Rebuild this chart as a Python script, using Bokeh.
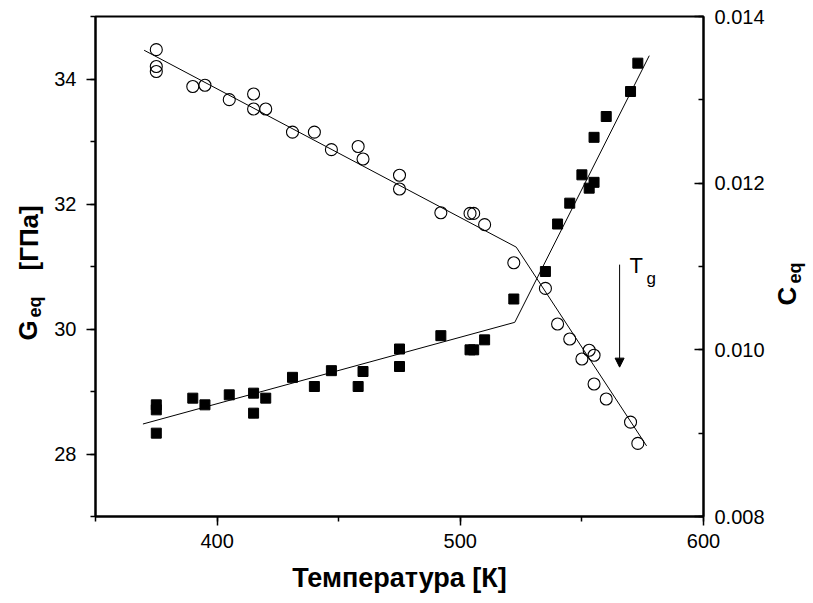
import math
from bokeh.plotting import figure
from bokeh.layouts import row
from bokeh.models import (Range1d, LinearAxis, SingleIntervalTicker, Label,
                          Arrow, NormalHead, NumeralTickFormatter)
from bokeh.core.properties import value
from bokeh.embed import file_html
from bokeh.resources import INLINE

# ---- data ----
temp = [375, 375, 375, 390, 395, 405, 415, 415, 420, 431, 440, 447, 458, 460,
        475, 475, 492, 504, 505.5, 510, 522, 535, 540, 545, 550, 553, 555, 555,
        560, 570, 573]
g_eq = [34.47, 34.20, 34.12, 33.88, 33.90, 33.67, 33.76, 33.52, 33.52, 33.15,
        33.15, 32.87, 32.92, 32.72, 32.46, 32.24, 31.86, 31.85, 31.85, 31.67,
        31.06, 30.65, 30.08, 29.84, 29.52, 29.66, 29.58, 29.12, 28.88, 28.51,
        28.17]
c_eq = [0.00934, 0.00928, 0.00900, 0.00942, 0.00934, 0.00946, 0.00948, 0.00924,
        0.00942, 0.00967, 0.00956, 0.00975, 0.00956, 0.00974, 0.01001, 0.00980,
        0.01017, 0.01000, 0.01000, 0.01012, 0.01061, 0.01094, 0.01151, 0.01176,
        0.01210, 0.01194, 0.01201, 0.01255, 0.01280, 0.01310, 0.01344]

g_fit_t = [370.0, 523.0, 576.6]
g_fit_v = [34.46, 31.31, 28.13]
c_fit_t = [369.5, 522.4, 577.7]
c_fit_v = [0.00911, 0.01033, 0.01353]

tg_arrow_x = 565.5
tg_arrow_y = [31.03, 29.39]

x_title = "Температура [К]"
g_title = ["G", "eq", "[ГПа]"]
c_title = ["C", "eq"]

FONT = "Liberation Sans"
H = 603
LEFT_W = 50
RIGHT_W = 40
MAIN_W = 813 - LEFT_W - RIGHT_W
TOP, BOTTOM = 16, 87
Y0, Y1 = 27, 35


def py_to_y(py):
    # screen pixel row -> left-axis data value (frame 16..516 maps 35..27)
    return Y1 - (py - TOP) * (Y1 - Y0) / (H - TOP - BOTTOM)


# ---- main figure ----
p = figure(width=MAIN_W, height=H, output_backend="svg", toolbar_location=None,
           x_range=Range1d(350, 600), y_range=Range1d(Y0, Y1),
           min_border_left=95 - LEFT_W, min_border_right=110 - RIGHT_W,
           min_border_top=TOP, min_border_bottom=BOTTOM)
p.extra_y_ranges = {"c": Range1d(0.008, 0.014)}
p.background_fill_color = "white"
p.border_fill_color = "white"
p.xgrid.visible = False
p.ygrid.visible = False
p.outline_line_color = "black"
p.outline_line_width = 2


def style_axis(ax, tick_out, tick_in, minor_out, minor_in, standoff):
    ax.axis_line_width = 2
    ax.axis_line_color = "black"
    ax.major_tick_out = tick_out
    ax.major_tick_in = tick_in
    ax.minor_tick_out = minor_out
    ax.minor_tick_in = minor_in
    ax.major_tick_line_width = 1.5
    ax.minor_tick_line_width = 1.5
    ax.major_tick_line_color = "black"
    ax.minor_tick_line_color = "black"
    ax.major_label_text_font = FONT
    ax.major_label_text_font_size = "20px"
    ax.major_label_text_color = "black"
    ax.major_label_standoff = standoff


xa = p.xaxis[0]
xa.ticker = SingleIntervalTicker(interval=100, num_minor_ticks=2)
style_axis(xa, 9, 0, 5, 0, 8)
xa.axis_label = x_title
xa.axis_label_text_font = FONT
xa.axis_label_text_font_size = "27px"
xa.axis_label_text_font_style = "bold"
xa.axis_label_text_color = "black"
xa.axis_label_standoff = 12

ya = p.yaxis[0]
ya.ticker = SingleIntervalTicker(interval=2, num_minor_ticks=2)
style_axis(ya, 9, 0, 5, 0, 10)

ra = LinearAxis(y_range_name="c",
                ticker=SingleIntervalTicker(interval=0.002, num_minor_ticks=2),
                formatter=NumeralTickFormatter(format="0.000"))
style_axis(ra, 0, 9, 0, 5, 11)
p.add_layout(ra, "right")

# fit lines
p.line(g_fit_t, g_fit_v, line_color="black", line_width=1)
p.line(c_fit_t, c_fit_v, line_color="black", line_width=1, y_range_name="c")

# markers
p.scatter(temp, g_eq, marker="circle", size=12, fill_color=None,
          line_color="black", line_width=1.1)
p.scatter(temp, c_eq, marker="square", size=10, fill_color="black",
          line_color="black", y_range_name="c")

# Tg arrow + label
p.add_layout(Arrow(x_start=tg_arrow_x, y_start=tg_arrow_y[0],
                   x_end=tg_arrow_x, y_end=tg_arrow_y[1],
                   line_color="black", line_width=1,
                   end=NormalHead(size=9, fill_color="black", line_color="black")))
p.add_layout(Label(x=569.6, y=30.824, text="T", text_font=FONT,
                   text_font_size="22px", text_color="black"))
p.add_layout(Label(x=576.6, y=30.651, text="g", text_font=FONT,
                   text_font_size="17px", text_color="black"))


# ---- side figures holding the rotated axis titles ----
def side_fig(w):
    f = figure(width=w, height=H, output_backend="svg", toolbar_location=None,
               x_range=Range1d(0, w), y_range=Range1d(Y0, Y1),
               x_axis_location=None, y_axis_location=None, title=None,
               min_border_left=0, min_border_right=0,
               min_border_top=TOP, min_border_bottom=BOTTOM)
    f.xgrid.visible = False
    f.ygrid.visible = False
    f.outline_line_color = None
    f.background_fill_color = "white"
    f.border_fill_color = "white"
    return f


def vtext(f, xs, pys, texts, size):
    f.text(x=xs, y=[py_to_y(v) for v in pys], text=texts, angle=math.pi / 2,
           text_font=value(FONT), text_font_size=value(size),
           text_font_style="bold", text_color="black",
           text_align="left", text_baseline="alphabetic")


lf = side_fig(LEFT_W)
vtext(lf, [27, 28], [340, 270], [g_title[0], g_title[2]], "26px")
vtext(lf, [34], [317], [g_title[1]], "18px")

rf = side_fig(RIGHT_W)
off = 813 - RIGHT_W
vtext(rf, [786 - off], [305], [c_title[0]], "26px")
vtext(rf, [794 - off], [283], [c_title[1]], "18px")

layout = row(lf, p, rf, spacing=0)
open("out.html", "w").write(file_html(layout, INLINE))
